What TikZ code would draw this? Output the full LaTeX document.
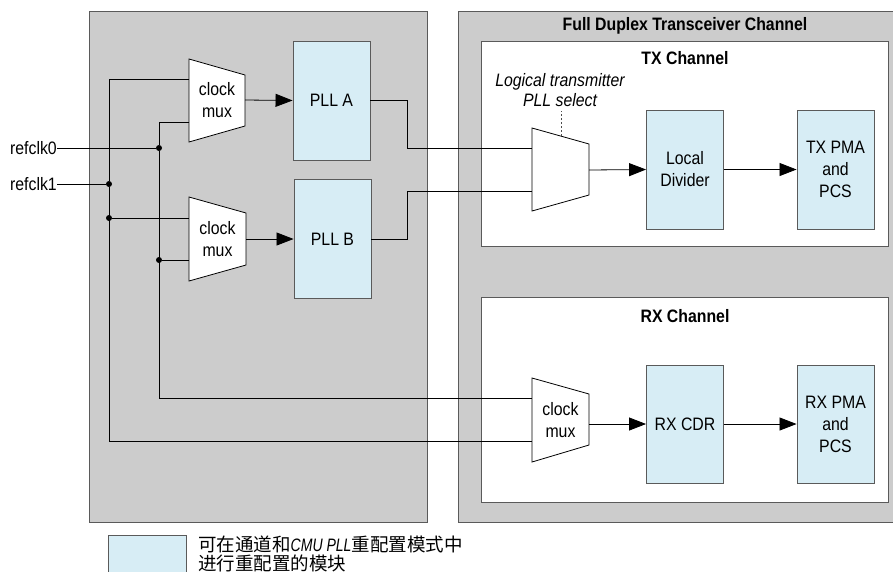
\documentclass[tikz,border=0pt]{standalone}
\usepackage{fontspec}
\setmainfont{Liberation Sans}[FakeStretch=0.88]
\newfontfamily\cjk{Noto Sans CJK SC}
\newfontfamily\narrowit{Liberation Sans}[FakeStretch=0.78, UprightFont=*-Italic]
\usetikzlibrary{arrows.meta}
\definecolor{panelgray}{RGB}{204,204,204}
\definecolor{blkblue}{RGB}{215,237,245}
\definecolor{edgegray}{RGB}{90,90,90}
\tikzset{
  panel/.style={draw=edgegray, line width=1pt, fill=panelgray},
  chan/.style={draw=edgegray, line width=1pt, fill=white},
  blk/.style={draw=edgegray, line width=0.9pt, fill=blkblue, minimum width=77pt, minimum height=119pt, align=center, inner sep=0pt},
  muxshape/.style={draw=black, line width=0.8pt, fill=white},
  wire/.style={draw=black, line width=0.8pt},
  arr/.style={wire, -{Triangle[length=17pt,width=13pt]}},
  dot/.style={circle, fill=black, inner sep=0pt, minimum size=6pt},
  lbl/.style={inner sep=0pt, align=center},
  ttl/.style={lbl, font=\fontsize{18}{22}\selectfont\bfseries},
  every node/.style={font=\fontsize{18}{22}\selectfont},
}
\begin{document}
\begin{tikzpicture}[x=1pt,y=-1pt]
\useasboundingbox (0,0) rectangle (893,571);
% panels
\draw[panel] (89,11) rectangle (427,522);
\draw[panel] (458,11) rectangle (900,522);
\draw[chan] (481,41) rectangle (888,246);
\draw[chan] (481,297) rectangle (888,502);
\node[ttl] (fdt) at (685,26) {Full Duplex Transceiver Channel};
\node[ttl] (txt) at (685,58) {TX Channel};
\node[ttl] (rxt) at (685,316) {RX Channel};

% blocks
\node[blk] (plla) at (331.5,100.5) {PLL A};
\node[blk] (pllb) at (332.5,239) {PLL B};
\node[blk] (ldiv) at (685,169.5) {Local\\Divider};
\node[blk] (txpma) at (835.5,169.5) {TX PMA\\and\\PCS};
\node[blk, minimum height=118pt] (rxcdr) at (685,424) {RX CDR};
\node[blk, minimum height=118pt] (rxpma) at (835.5,424) {RX PMA\\and\\PCS};

% muxes
\draw[muxshape] (189,59) -- (245,75) -- (245,126) -- (189,142) -- cycle;
\node[lbl] (m1) at (217,100) {clock\\mux};
\coordinate (m1o) at (245,100);
\coordinate (m1a) at (189,79);
\coordinate (m1b) at (189,122);

\draw[muxshape] (189,197) -- (246,213) -- (246,265) -- (189,281) -- cycle;
\node[lbl] (m2) at (217.5,239) {clock\\mux};
\coordinate (m2o) at (246,239);
\coordinate (m2a) at (189,218);
\coordinate (m2b) at (189,260);

\draw[muxshape] (532,128) -- (589,144) -- (589,195) -- (532,211) -- cycle;
\coordinate (txo) at (589,170);
\coordinate (txa) at (532,148);
\coordinate (txb) at (532,191);
\coordinate (txsel) at (561,136);

\draw[muxshape] (532,378) -- (589,394) -- (589,445) -- (532,462) -- cycle;
\node[lbl] (m3) at (560.5,420) {clock\\mux};
\coordinate (rxo) at (589,424);
\coordinate (rxa) at (532,398);
\coordinate (rxb) at (532,441);

% select label
\node[lbl, font=\fontsize{18}{20}\selectfont\itshape] (sel) at (560,90) {Logical transmitter\\PLL select};
\draw[black!70, line width=0.6pt, dash pattern=on 2pt off 2pt] (txsel) -- (561,111);

% reference clocks
\node[lbl, anchor=east] (r0) at (57,148) {refclk0};
\node[lbl, anchor=east] (r1) at (57,184) {refclk1};
\node[dot] (d0) at (159,148) {};
\node[dot] (d1) at (109,184) {};
\node[dot] (d2) at (109,218) {};
\node[dot] (d3) at (159,260) {};
\draw[wire] (r0.east) -- (d0);
\draw[wire] (r1.east) -- (d1);
\draw[wire] (m1a) -| (d1);
\draw[wire] (d1) |- (rxb);
\draw[wire] (d2) -- (m2a);
\draw[wire] (m1b) -| (d0);
\draw[wire] (d0) |- (rxa);
\draw[wire] (d3) -- (m2b);

% arrows
\draw[arr] (m1o) -- (plla.west);
\draw[arr] (m2o) -- (pllb.west);
\draw[wire] (plla.east) -- (407,100.5) |- (txa);
\draw[wire] (pllb.east) -- (407,239) |- (txb);
\draw[arr] (txo) -- (ldiv.west);
\draw[arr] (ldiv.east) -- (txpma.west);
\draw[arr] (rxo) -- (rxcdr.west);
\draw[arr] (rxcdr.east) -- (rxpma.west);

% legend
\node[draw=edgegray, line width=0.9pt, fill=blkblue, minimum width=78pt, minimum height=46pt, anchor=north west, inner sep=0pt] (leg) at (108,535) {};
\node[anchor=north west, inner sep=0pt, align=left, font=\fontsize{18.5}{18.5}\selectfont] (legt) at (198,536)
  {{\cjk 可在通道和}{\narrowit\fontsize{18}{18.5}\selectfont CMU PLL}{\cjk 重配置模式中}\\{\cjk 进行重配置的模块}};
\end{tikzpicture}
\end{document}
